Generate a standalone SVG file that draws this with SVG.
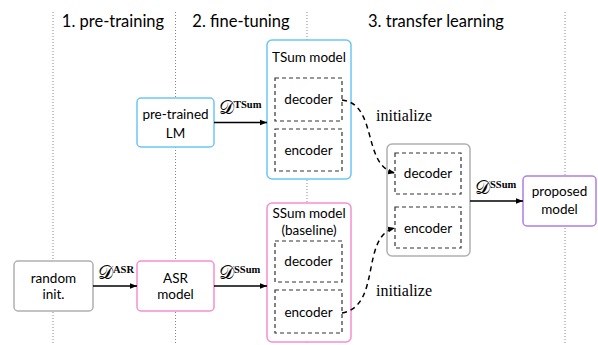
<svg xmlns="http://www.w3.org/2000/svg" width="598" height="345" viewBox="0 0 598 345">
<defs>
<marker id="ah" viewBox="0 0 10 10" refX="10" refY="5" markerWidth="7" markerHeight="7" markerUnits="userSpaceOnUse" orient="auto"><path d="M0,1 L10,5 L0,9 z" fill="#000"/></marker>
<style>
.sep{stroke:#888;stroke-width:1;stroke-dasharray:1 2;fill:none}
.hd{font-family:Lato,"Liberation Sans",sans-serif;font-size:16.5px;fill:#000;text-anchor:middle}
.t{font-family:Lato,"Liberation Sans",sans-serif;font-size:13.5px;fill:#000;text-anchor:middle}
.box{fill:#fff;stroke-width:1.5}
.blue{stroke:#6cc6f5}.pink{stroke:#f58fd0}.gray{stroke:#b0b0b0}.purple{stroke:#b07ee8}
.inner{fill:#fff;stroke:#333;stroke-width:1.2;stroke-dasharray:4 3}
.arr{stroke:#000;stroke-width:1.5;fill:none;marker-end:url(#ah)}
.curve{stroke:#000;stroke-width:1.5;fill:none;stroke-dasharray:5 4;marker-end:url(#ah)}
.D{font-family:"DejaVu Serif","Liberation Serif",serif;font-size:19px}
.sup{font-family:"Liberation Serif",serif;font-size:10.5px;font-weight:bold}
.ini{font-family:"Liberation Serif",serif;font-size:16px;fill:#000}
</style>
</defs>
<g id="separators">
<line class="sep" x1="53" y1="12" x2="53" y2="345"/>
<line class="sep" x1="175.5" y1="12" x2="175.5" y2="345"/>
<line class="sep" x1="307" y1="12" x2="307" y2="345"/>
<line class="sep" x1="565" y1="12" x2="565" y2="345"/>
</g>
<g id="headings">
<text class="hd" x="113" y="27">1. pre-training</text>
<text class="hd" x="241" y="27">2. fine-tuning</text>
<text class="hd" x="436" y="27">3. transfer learning</text>
</g>
<g id="random-init">
<rect class="box gray" x="14" y="261" width="79" height="50" rx="4"/>
<text class="t" x="53.5" y="283">random</text>
<text class="t" x="53.5" y="299">init.</text>
</g>
<g id="pretrained-lm">
<rect class="box blue" x="137" y="98" width="77" height="49" rx="4"/>
<text class="t" x="175.5" y="119">pre-trained</text>
<text class="t" x="175.5" y="138">LM</text>
</g>
<g id="asr-model">
<rect class="box pink" x="137" y="261" width="77" height="50" rx="4"/>
<text class="t" x="175.5" y="283">ASR</text>
<text class="t" x="175.5" y="299">model</text>
</g>
<g id="tsum-model">
<rect class="box blue" x="267" y="40" width="84" height="139" rx="5"/>
<text class="t" x="309" y="62">TSum model</text>
<rect class="inner" x="275" y="78" width="67" height="43"/>
<text class="t" x="308.5" y="104">decoder</text>
<rect class="inner" x="275" y="129" width="67" height="42"/>
<text class="t" x="308.5" y="155">encoder</text>
</g>
<g id="ssum-model">
<rect class="box pink" x="267" y="203" width="84" height="139" rx="5"/>
<text class="t" x="309" y="218">SSum model</text>
<text class="t" x="309" y="235">(baseline)</text>
<rect class="inner" x="275" y="241" width="67" height="41"/>
<text class="t" x="308.5" y="266">decoder</text>
<rect class="inner" x="275" y="290" width="67" height="43"/>
<text class="t" x="308.5" y="317">encoder</text>
</g>
<g id="transfer-model">
<rect class="box gray" x="387" y="144" width="83" height="112" rx="5"/>
<rect class="inner" x="395" y="153" width="66" height="41"/>
<text class="t" x="428" y="178">decoder</text>
<rect class="inner" x="395" y="207" width="66" height="41"/>
<text class="t" x="428" y="233">encoder</text>
</g>
<g id="proposed-model">
<rect class="box purple" x="523" y="176" width="73" height="50" rx="4"/>
<text class="t" x="559.5" y="196">proposed</text>
<text class="t" x="559.5" y="214">model</text>
</g>
<g id="connectors">
<line class="arr" x1="93" y1="286" x2="137" y2="286"/>
<line class="arr" x1="214" y1="286" x2="267" y2="286"/>
<line class="arr" x1="214" y1="122.5" x2="267" y2="122.5"/>
<line class="arr" x1="470" y1="201" x2="523" y2="201"/>
<path class="curve" d="M342,100 C378,104 362,166 395,173"/>
<path class="curve" d="M342,313 C382,306 360,236 395,228"/>
</g>
<g id="labels">
<text x="98" y="279"><tspan class="D">𝒟</tspan><tspan class="sup" dy="-6">ASR</tspan></text>
<text x="219" y="279"><tspan class="D">𝒟</tspan><tspan class="sup" dy="-6">SSum</tspan></text>
<text x="219" y="114"><tspan class="D">𝒟</tspan><tspan class="sup" dy="-6">TSum</tspan></text>
<text x="475" y="194"><tspan class="D">𝒟</tspan><tspan class="sup" dy="-6">SSum</tspan></text>
<text class="ini" x="376" y="121">initialize</text>
<text class="ini" x="376" y="296">initialize</text>
</g>
</svg>
